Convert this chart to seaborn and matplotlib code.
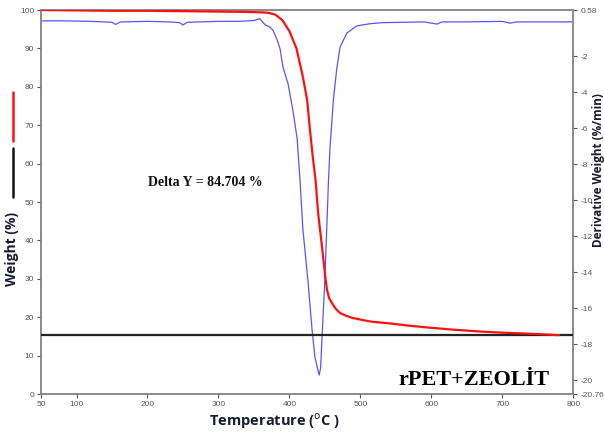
import matplotlib
matplotlib.use("Agg")
import matplotlib.pyplot as plt
from matplotlib.lines import Line2D
import seaborn as sns
import numpy as np
import pandas as pd

# weight curve (red)
temp_w = [50, 100, 150, 200, 250, 300, 340, 360, 370, 380, 390, 400, 410, 419,
          425, 429, 433, 437, 440.5, 446, 450, 453, 456, 460, 465, 471.5, 480,
          490, 514, 542, 570, 598, 630, 669, 700, 730, 760, 780]
weight = [100.0, 99.9, 99.8, 99.8, 99.7, 99.6, 99.5, 99.4, 99.3, 98.8, 97.4,
          94.5, 90.0, 82.6, 76.6, 68.8, 61.7, 55.5, 47.1, 38.3, 31.5, 27.1,
          25.0, 23.7, 22.3, 21.1, 20.4, 19.8, 18.9, 18.4, 17.8, 17.3, 16.8,
          16.3, 16.0, 15.8, 15.55, 15.35]

# derivative weight curve (blue)
temp_d = [50, 80, 120, 150, 155, 162, 200, 230, 245, 250, 256, 300, 330, 350,
          358, 366, 372, 377, 383, 387, 391, 398, 405, 411, 415, 419, 426, 432,
          436, 440, 442, 444, 446, 450, 455, 457, 462, 467, 471.5, 481, 495,
          514, 532, 560, 590, 608, 615, 650, 700, 711, 720, 760, 800]
deriv = [-0.02, -0.02, -0.05, -0.10, -0.22, -0.08, -0.05, -0.08, -0.12, -0.25,
         -0.10, -0.05, -0.05, 0.0, 0.10, -0.25, -0.35, -0.55, -1.1, -1.6, -2.6,
         -3.5, -5.0, -6.6, -8.9, -11.6, -14.4, -17.2, -18.7, -19.4, -19.7,
         -19.3, -17.6, -14.4, -9.0, -7.2, -4.4, -2.6, -1.47, -0.7, -0.3, -0.18,
         -0.12, -0.10, -0.08, -0.2, -0.08, -0.08, -0.05, -0.15, -0.08, -0.08,
         -0.08]

delta_y = 84.704
residue = 100 - delta_y

x_ticks = [50, 100, 200, 300, 400, 500, 600, 700, 800]
y_ticks = list(range(0, 101, 10))
d_ticks = [0.58, -2, -4, -6, -8, -10, -12, -14, -16, -18, -20, -20.76]

sns.set_theme(style="ticks")
plt.rcParams['font.family'] = ['Liberation Sans', 'DejaVu Sans']

fig = plt.figure(figsize=(6.04, 4.36), dpi=100)
ax = fig.add_axes([0.068, 0.096, 0.881, 0.881])
ax2 = ax.twinx()

df_w = pd.DataFrame({"T": temp_w, "W": weight})
df_d = pd.DataFrame({"T": temp_d, "D": deriv})

sns.lineplot(data=df_d, x="T", y="D", ax=ax2, color="#5555ff", linewidth=0.9)
ax.axhline(residue, color="#222222", linewidth=1.6, zorder=3)
sns.lineplot(data=df_w, x="T", y="W", ax=ax, color="#ff1010", linewidth=1.6, zorder=4)
ax.set_zorder(ax2.get_zorder() + 1)
ax.patch.set_visible(False)

ax.set_xlim(50, 800)
ax.set_ylim(0, 100)
ax2.set_ylim(-20.76, 0.58)
ax.set_xticks(x_ticks)
ax.set_yticks(y_ticks)
ax2.set_yticks(d_ticks)
ax2.set_yticklabels([f"{t:g}" for t in d_ticks])

for a in (ax, ax2):
    a.set_xlabel("")
    a.set_ylabel("")
    a.tick_params(labelsize=6, colors="#555555", length=3, width=0.8, pad=2)
    for s in a.spines.values():
        s.set_color("#8a8a8a")
        s.set_linewidth(1.2)
        s.set_visible(True)

label_font = ["Open Sans", "DejaVu Sans"]
fig.text(0.455, 0.035, r"Temperature ($^{\mathrm{o}}$C )", ha="center", va="center",
         fontsize=10.5, fontweight="bold", family=label_font, color="#1a1a33")
fig.text(0.02, 0.43, "Weight (%)", rotation=90, ha="center", va="center",
         fontsize=10, fontweight="bold", family=label_font, color="#1a1a33")
fig.text(0.9905, 0.61, "Derivative Weight (%/min)", rotation=90, ha="center", va="center",
         fontsize=8.5, fontweight="bold", family=label_font, color="#1a1a33")

# axis keys next to the left label
fig.add_artist(Line2D([0.0215, 0.0215], [1 - 92 / 436, 1 - 141 / 436], color="#ff1010", linewidth=1.8))
fig.add_artist(Line2D([0.0215, 0.0215], [1 - 148 / 436, 1 - 197 / 436], color="#111111", linewidth=1.8))

ax.text(281, 55.2, f"Delta Y = {delta_y:.3f} %", ha="center", va="center",
        fontsize=10, fontweight="bold", family=["Liberation Serif", "DejaVu Serif"], color="#111111")
ax.text(660, 3.8, "rPET+ZEOLİT", ha="center", va="center",
        fontsize=16, fontweight="bold", family=["Liberation Serif", "DejaVu Serif"], color="#000000")

fig.savefig("out.png", dpi=100)
